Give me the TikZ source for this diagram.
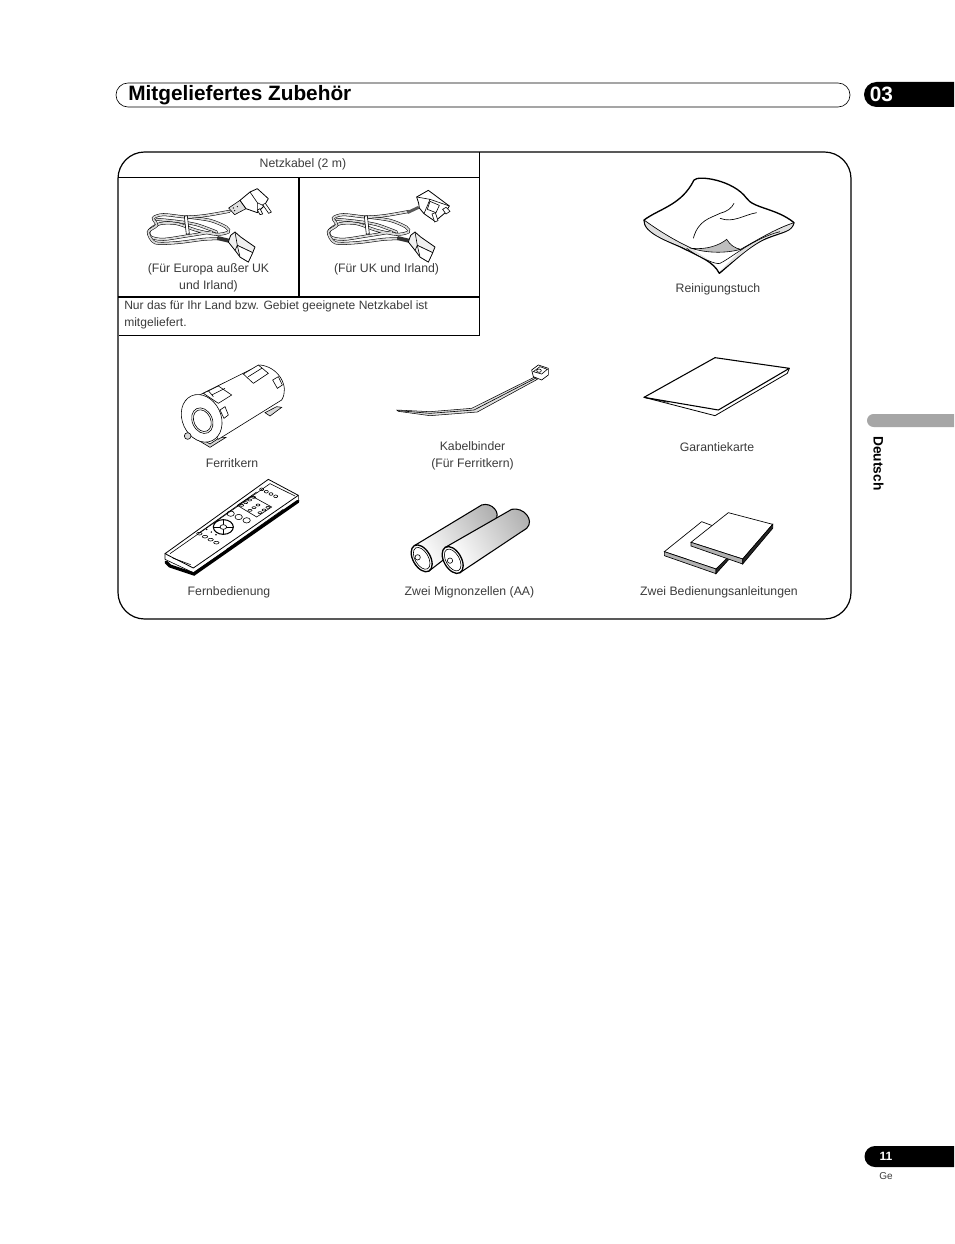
\documentclass[tikz,border=0pt]{standalone}
\usepackage{fontspec}
\setmainfont{Liberation Sans}
\definecolor{txtgray}{HTML}{3C3C3C}
\definecolor{tabgray}{HTML}{A6A6A6}
\tikzset{lbl/.style={font=\fontsize{9.2}{12.75}\selectfont,text=txtgray,inner sep=0pt,align=center},
         rule/.style={line width=0.6pt},
         wire/.style={double=gray!30,double distance=1.35pt,line width=0.4pt,line cap=round},
         thinline/.style={line width=0.45pt},
         coil/.pic={
        code={\tikzset{scale=1/3}
            \draw[wire] plot[smooth] coordinates {(50,112) (110,118) (170,128) (230,150)};
            \draw[wire] plot[smooth] coordinates {(140,105) (210,115) (258,135) (265,150) (230,157) (170,145) (110,125) (60,125) (28,145) (32,165) (70,172) (140,162) (215,150)};
            \draw[wire] plot[smooth] coordinates {(268,88) (200,100) (140,105) (70,98) (40,108) (50,130) (25,150) (45,182) (110,182) (190,172) (235,170)};
            \draw[fill=white,thinline] (133,103) -- (142,101) -- (148,155) -- (139,157) -- cycle;
            % connector
            \draw[line width=3pt,black!80] (232,168) -- (266,176);
            \draw[fill=gray!12,line width=0.6pt,line join=round] (265,180) -- (272,160) -- (285,150) -- (302,165) -- (345,195) -- (338,212) -- (325,240) -- (300,225) -- (285,205) -- cycle;
            \draw[thinline] (285,150) -- (292,190) -- (285,205) (292,190) -- (338,212);
            \draw[fill=white,thinline] (292,190) -- (338,212) -- (325,240) -- (300,225) -- cycle;
  }},
         euplug/.pic={
        code={\tikzset{scale=1/3}
            \draw[fill=gray!25,line width=0.45pt,line join=round] (266,78) -- (300,55) -- (318,80) -- (284,98) -- cycle;
            \fill (280,78) circle (2) (292,74) circle (2) (284,86) circle (2);
            \draw[fill=white,line width=0.6pt,line join=round] (300,55) -- (330,30) -- (352,20) -- (385,50) -- (372,72) -- (352,92) -- (318,80) -- cycle;
            \draw[thinline] (330,30) -- (352,62) -- (372,72) (352,62) -- (352,92);
            \draw[fill=white,thinline] (368,68) -- (376,64) -- (394,90) -- (386,94) -- cycle;
            \draw[fill=white,thinline] (352,84) -- (360,80) -- (368,96) -- (360,98) -- cycle;
  }},
         ukplug/.pic={
        code={\tikzset{scale=1/3}
            \draw[line width=2.2pt,black!65] (262,92) -- (296,76);
            \draw[fill=white,line width=0.6pt,line join=round] (296,64) -- (290,45) -- (325,25) -- (388,72) -- (376,92) -- (345,118) -- (312,95) -- (298,78) -- cycle;
            \draw[thinline] (290,45) -- (330,52) -- (388,72) (330,52) -- (312,95);
            \draw[fill=white,thinline] (330,58) -- (358,70) -- (348,92) -- (322,82) -- cycle;
            \draw[fill=white,thinline] (368,82) -- (378,76) -- (390,88) -- (378,96) -- cycle;
            \draw[fill=white,thinline] (336,96) -- (346,92) -- (354,116) -- (344,120) -- cycle;
  }},
         ferrite/.pic={
        code={\tikzset{scale=1/3}
            \draw[fill=gray!30,thinline] (130,262) -- (180,292) -- (228,262) -- (210,262) -- (180,282) -- (140,258) -- cycle;
            \draw[fill=gray!30,thinline] (345,188) -- (360,198) -- (395,172) -- (380,170) -- cycle;
            \draw[fill=white,thinline] (118,150) -- (330,45) .. controls (385,50) and (420,110) .. (395,150) -- (205,268) -- cycle;
            \draw[fill=white,thinline,rotate around={25:(155,205)}] (155,205) ellipse (58 and 74);
            \draw[thinline,rotate around={25:(157,212)}] (157,212) ellipse (30 and 40);
            \draw[thinline,rotate around={25:(157,212)}] (157,212) ellipse (25 and 34);
            \draw[fill=white,thinline] (160,130) -- (205,108) -- (245,135) -- (205,160) -- cycle;
            \draw[thinline] (185,135) -- (225,115) (175,122) -- (190,140);
            \draw[fill=white,thinline] (280,72) -- (325,45) -- (355,70) -- (310,100) -- cycle;
            \draw[thinline] (295,80) -- (335,55);
            \draw[fill=white,thinline] (210,180) -- (225,170) -- (235,195) -- (222,205) -- cycle;
            \draw[fill=white,thinline] (368,90) -- (385,80) -- (397,105) -- (382,115) -- cycle;
            \draw[fill=gray!30,thinline] (113,258) circle (10);
  }},
         remote/.pic={
        code={\tikzset{scale=1/3}
            \draw[fill=white,thinline,line join=round] (15,245) -- (15,262) -- (100,302) -- (415,85) -- (415,70) -- cycle;
            \draw[line width=2.4pt,line cap=round] (18,270) -- (30,282) -- (102,306) -- (414,88);
            \draw[fill=white,line width=0.6pt,line join=round] (15,245) -- (325,22) -- (415,70) -- (100,288) -- cycle;
            \draw[thinline] (30,245) -- (330,35) -- (405,72);
            \draw[thinline] (38,258) -- (92,278);
            \draw[thinline] (118,182) -- (290,60) (200,232) -- (370,112);
            % button panel
            \draw[thinline] (232,100) -- (275,72) -- (335,105) -- (290,135) -- cycle;
            \foreach \i in {0,1,2,3} {
                \draw[thinline] ({245+12*\i},{100-8*\i}) ellipse (6 and 3);
                \draw[thinline] ({305+14*\i},{52+7*\i}) ellipse (6 and 4);
                \draw[thinline] ({118+17*\i},{185+9*\i}) ellipse (8 and 4);
            }
            \foreach \i in {0,1,2} {
                \draw[thinline] ({270+12*\i},{115-8*\i}) ellipse (6 and 3);
                \draw[thinline] ({300+12*\i},{122-8*\i}) ellipse (6 and 3);
                \draw[thinline] ({212+24*\i},{125+10*\i}) ellipse (11 and 8);
                \fill ({140+14*\i},{172+8*\i}) circle (2.5);
            }
            % d-pad
            \draw[fill=white,line width=0.8pt] (190,165) ellipse (30 and 22);
            \draw[thinline] (190,143) -- (190,187) (160,165) -- (220,165);
            \draw[fill=white,line width=0.5pt] (190,165) ellipse (10 and 7);
  }},
         cabletie/.pic={
        code={\tikzset{scale=1/3}
            \draw[fill=gray!25,line width=0.4pt,line join=round] (462,82) -- (275,175) -- (150,185) -- (50,180) -- (55,184) -- (150,197) -- (292,186) -- (472,88) -- cycle;
            \draw[thinline] (466,85) -- (282,180) -- (150,190) -- (55,182);
            \draw[fill=white,line width=0.5pt,line join=round] (455,60) -- (475,45) -- (505,55) -- (505,75) -- (485,90) -- (460,80) -- cycle;
            \draw[thinline] (460,65) -- (480,50) -- (502,58) -- (485,72) -- cycle;
            \draw[thinline] (477,62) ellipse (7 and 5);
  }},
         batteries/.pic={
        code={\tikzset{scale=1/3}
            \draw[line width=0.8pt,left color=white,middle color=white,right color=gray!60,shading angle=120] (103,587) -- (305,465) .. controls (335,455) and (365,490) .. (345,510) -- (147,663) -- cycle;
            \draw[line width=1pt,fill=white,rotate around={30:(125,625)}] (125,625) ellipse (26 and 44);
            \draw[thinline,rotate around={30:(125,625)}] (125,625) ellipse (20 and 36);
            \draw[thinline] (113,622) circle (8);
            \draw[line width=0.8pt,left color=white,middle color=white,right color=gray!60,shading angle=120] (196,592) -- (395,478) .. controls (430,470) and (465,510) .. (440,535) -- (240,668) -- cycle;
            \draw[line width=1pt,fill=white,rotate around={30:(218,630)}] (218,630) ellipse (26 and 44);
            \draw[thinline,rotate around={30:(218,630)}] (218,630) ellipse (20 and 36);
            \draw[thinline] (210,632) circle (8);
  }},
         guaranteecard/.pic={
        code={\tikzset{scale=1/3}
            \draw[fill=white,line width=0.6pt,line join=round] (42,157) -- (255,212) -- (472,85) -- (478,70) -- cycle;
            \draw[fill=white,line width=0.8pt,line join=round] (42,157) -- (255,38) -- (478,70) -- (265,195) -- cycle;
            \draw[thinline] (42,157) -- (115,172);
  }},
         manuals/.pic={
        code={\tikzset{scale=1/3}
            % lower booklet first
            \draw[fill=white,line width=0.5pt] (215,530) -- (103,620) -- (258,672) -- (295,640) -- (295,560) -- cycle;
            \draw[fill=gray!60,line width=0.5pt] (103,620) -- (103,632) -- (258,686) -- (258,672) -- cycle;
            \draw[fill=black!85,line width=0.5pt] (258,672) -- (258,686) -- (295,645) -- (295,635) -- cycle;
            % upper booklet
            \draw[fill=white,line width=0.5pt] (295,503) -- (428,538) -- (338,642) -- (183,592) -- cycle;
            \draw[fill=gray!60,line width=0.5pt] (183,592) -- (183,603) -- (338,657) -- (338,642) -- cycle;
            \draw[fill=black!85,line width=0.5pt] (338,642) -- (338,657) -- (428,550) -- (428,538) -- cycle;
  }},
         cloth/.pic={
        code={\tikzset{scale=1/3}
            \draw[fill=white,line width=1pt,line join=round] (72,150) .. controls (120,115) and (185,105) .. (222,30) .. controls (235,15) and (340,30) .. (380,85) .. controls (400,115) and (470,115) .. (522,158) .. controls (515,185) and (490,185) .. (440,205) .. controls (390,225) and (340,275) .. (298,310) .. controls (280,275) and (240,260) .. (190,235) .. controls (150,215) and (70,190) .. (72,150) -- cycle;
            \fill[gray!25] (74,152) .. controls (100,170) and (150,205) .. (215,235) -- (280,280) -- (190,232) .. controls (150,215) and (74,190) .. (74,152) -- cycle;
            \fill[gray!25] (520,159) .. controls (470,175) and (420,205) .. (365,238) -- (298,305) .. controls (340,275) and (390,225) .. (440,203) .. controls (490,183) and (513,185) .. (520,159) -- cycle;
            \draw[fill=gray!50,thinline] (215,235) .. controls (260,240) and (300,225) .. (320,208) .. controls (330,225) and (345,235) .. (362,238) .. controls (320,250) and (260,250) .. (215,235) -- cycle;
            \draw[line width=0.5pt] (72,150) .. controls (100,170) and (150,205) .. (215,235);
            \draw[line width=0.5pt] (362,238) .. controls (420,205) and (470,175) .. (522,158);
            \draw[thinline] (200,235) .. controls (240,265) and (290,285) .. (300,280) .. controls (340,260) and (400,205) .. (480,185);
            \draw[line width=0.5pt] (220,205) .. controls (235,150) and (270,145) .. (300,130) .. controls (320,125) and (335,115) .. (342,100);
            \draw[line width=0.5pt] (300,145) .. controls (340,160) and (370,135) .. (410,128);
  }}
}
\begin{document}
\begin{tikzpicture}[x=0.75pt,y=-0.75pt]
\useasboundingbox (0,0) rectangle (954,1244);
\fill[white] (0,0) rectangle (954,1244);

% header
\draw[line width=0.5pt,rounded corners=9pt] (116,83) rectangle (850,107);
\node[anchor=base west,inner sep=0pt,font=\fontsize{15.6}{18}\selectfont\bfseries] (title) at (128,100.5) {Mitgeliefertes Zubehör};
\fill[black] (954,82) -- (876.5,82) arc (270:90:12.5) -- (954,107) -- cycle;
\node[anchor=base west,inner sep=0pt,text=white,font=\fontsize{15.6}{18}\selectfont\bfseries] (chapter) at (869.5,101.5) {03};

% frame
\draw[line width=0.9pt,rounded corners=20pt] (118,152) rectangle (851,619);
\draw[rule] (479.5,152) -- (479.5,335) -- (119,335);
\draw[rule] (118,177.5) -- (479.5,177.5);
\draw[line width=1.1pt] (299,177.5) -- (299,297);
\draw[line width=1.1pt] (118,297) -- (479.5,297);

% items
\path (140,182) pic {coil};
\path (140,182) pic {euplug};
\path (320,182) pic {coil};
\path (320,182) pic {ukplug};
\path (620,170) pic {cloth};
\path (150,350) pic {ferrite};
\path (160,472) pic {remote};
\path (380,350) pic {cabletie};
\path (380,350) pic {batteries};
\path (630,345) pic {guaranteecard};
\path (630,345) pic {manuals};

% labels
\node[lbl] (netzkabel) at (303,164) {Netzkabel (2 m)};
\node[lbl] (europa) at (208.5,277.5) {(Für Europa außer UK\\und Irland)};
\node[lbl] (uk) at (386.5,269) {(Für UK und Irland)};
\node[lbl,anchor=west,align=left,font=\fontsize{9.05}{12.75}\selectfont] (hinweis) at (124,314.5) {Nur das für Ihr Land bzw. Gebiet geeignete Netzkabel ist\\mitgeliefert.};
\node[lbl] (tuch) at (718,289) {Reinigungstuch};
\node[lbl] (ferritkern) at (232,463.5) {Ferritkern};
\node[lbl] (binder) at (472.5,455.5) {Kabelbinder\\(Für Ferritkern)};
\node[lbl] (garantie) at (717,447.5) {Garantiekarte};
\node[lbl] (fernbedienung) at (229,592) {Fernbedienung};
\node[lbl] (zellen) at (469.5,592) {Zwei Mignonzellen (AA)};
\node[lbl] (anleitungen) at (719,592) {Zwei Bedienungsanleitungen};

% side tab
\fill[tabgray] (954,414) -- (873.5,414) arc (270:90:6.5) -- (954,427) -- cycle;
\node[rotate=-90,inner sep=0pt,font=\fontsize{10.3}{12}\selectfont\bfseries] (sprache) at (878.5,463.5) {Deutsch};

% page number
\fill[black] (954,1146) -- (875,1146) arc (270:90:10.5) -- (954,1167) -- cycle;
\node[inner sep=0pt,text=white,font=\fontsize{9}{11}\selectfont\bfseries] (seite) at (886,1156.5) {11};
\node[inner sep=0pt,text=txtgray,font=\fontsize{7.5}{9}\selectfont] (ge) at (886,1176) {Ge};
\end{tikzpicture}
\end{document}
